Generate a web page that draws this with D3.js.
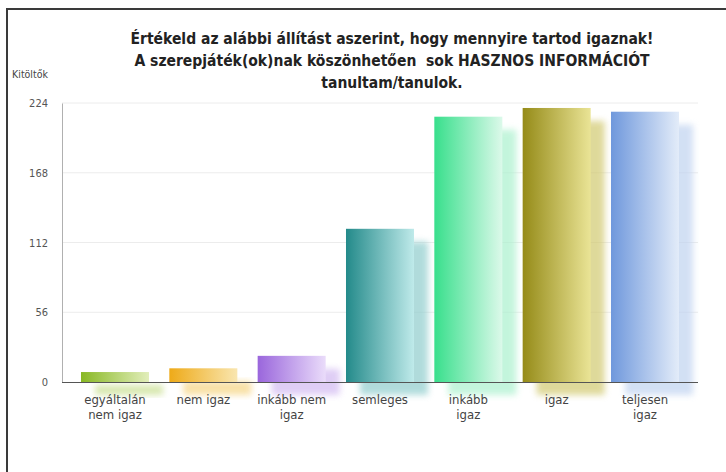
<!DOCTYPE html>
<html>
<head>
<meta charset="utf-8">
<script src="https://cdn.jsdelivr.net/npm/d3@7"></script>
<style>
  body { margin: 0; background: #fff; }
  svg { display: block; }
</style>
</head>
<body>
<svg id="chart" width="726" height="472"></svg>
<script>
// data
const categories = ['egyáltalán nem igaz', 'nem igaz', 'inkább nem igaz', 'semleges', 'inkább igaz', 'igaz', 'teljesen igaz'];
const labelLines = [['egyáltalán', 'nem igaz'], ['nem igaz'], ['inkább nem', 'igaz'], ['semleges'], ['inkább', 'igaz'], ['igaz'], ['teljesen', 'igaz']];
const counts = [8, 11, 21, 123, 213, 220, 217];
const yTicks = [0, 56, 112, 168, 224];
const darkColors = ['#88b824', '#eeaa18', '#9a66dc', '#238a8a', '#38df8c', '#958b18', '#6f98dc'];
const lightColors = ['#e2eebb', '#f9e6b0', '#eadcfa', '#bfeaea', '#dcf9ea', '#eae496', '#e3ecf9'];
const titleLines = [
  'Értékeld az alábbi állítást aszerint, hogy mennyire tartod igaznak!',
  'A szerepjáték(ok)nak köszönhetően  sok HASZNOS INFORMÁCIÓT',
  'tanultam/tanulok.'
];

const svg = d3.select('#chart');
const margin = { top: 103, right: 28, bottom: 90, left: 62 };
const width = 726 - margin.left - margin.right;
const height = 472 - margin.top - margin.bottom;

const defs = svg.append('defs');
darkColors.forEach((c, i) => {
  const g = defs.append('linearGradient')
    .attr('id', `grad${i}`)
    .attr('x1', '0%').attr('x2', '100%').attr('y1', '0%').attr('y2', '0%');
  g.append('stop').attr('offset', '0%').attr('stop-color', c);
  g.append('stop').attr('offset', '100%').attr('stop-color', lightColors[i]);
});
defs.append('filter').attr('id', 'blur')
  .attr('x', '-30%').attr('y', '-30%').attr('width', '160%').attr('height', '160%')
  .append('feGaussianBlur').attr('stdDeviation', 3);

// frame (only left and top edges are visible)
svg.append('path')
  .attr('d', 'M7,472 V9 H726')
  .attr('fill', 'none')
  .attr('stroke', '#3a3a3a')
  .attr('stroke-width', 2);

// title
svg.append('text')
  .attr('x', 392)
  .attr('y', 44)
  .attr('text-anchor', 'middle')
  .style('white-space', 'pre')
  .style('font', 'bold 15.5px "DejaVu Sans Condensed", "DejaVu Sans", sans-serif')
  .style('fill', '#222')
  .selectAll('tspan')
  .data(titleLines)
  .enter()
  .append('tspan')
  .attr('x', 392)
  .attr('dy', (d, i) => (i === 0 ? 0 : 22))
  .text((d) => d);

svg.append('text')
  .attr('x', 30)
  .attr('y', 78)
  .attr('text-anchor', 'middle')
  .style('font', '10.5px "DejaVu Sans Condensed", sans-serif')
  .style('fill', '#444')
  .text('Kitöltők');

const main = svg.append('g')
  .attr('transform', `translate(${margin.left},${margin.top})`);

const x = d3.scaleBand()
  .domain(categories)
  .range([0, width])
  .paddingInner(0.23)
  .paddingOuter(0.215);

const y = d3.scaleLinear()
  .domain([0, 224])
  .range([height, 0]);

// grid
main.append('g')
  .selectAll('line')
  .data(yTicks.filter((t) => t > 0))
  .enter()
  .append('line')
  .attr('x1', 0)
  .attr('x2', width)
  .attr('y1', (d) => y(d))
  .attr('y2', (d) => y(d))
  .attr('stroke', '#ececec');

// y axis
const yAxis = main.append('g')
  .call(d3.axisLeft(y).tickValues(yTicks).tickSize(0).tickPadding(14));
yAxis.select('.domain').attr('stroke', '#b0b0b0');
yAxis.selectAll('text')
  .style('font', '11px "DejaVu Sans Condensed", sans-serif')
  .style('fill', '#555');

// shadow bars
main.append('g')
  .selectAll('rect')
  .data(counts)
  .enter()
  .append('rect')
  .attr('x', (d, i) => x(categories[i]) + 14)
  .attr('y', (d) => y(d) + 13)
  .attr('width', x.bandwidth())
  .attr('height', (d) => height - y(d))
  .attr('fill', (d, i) => d3.interpolateRgb(lightColors[i], darkColors[i])(0.3))
  .attr('opacity', 0.7)
  .attr('filter', 'url(#blur)');

// front bars
main.append('g')
  .selectAll('rect')
  .data(counts)
  .enter()
  .append('rect')
  .attr('x', (d, i) => x(categories[i]))
  .attr('y', (d) => y(d))
  .attr('width', x.bandwidth())
  .attr('height', (d) => height - y(d))
  .attr('fill', (d, i) => `url(#grad${i})`);

// baseline
main.append('line')
  .attr('x1', 0)
  .attr('x2', width)
  .attr('y1', height + 0.5)
  .attr('y2', height + 0.5)
  .attr('stroke', '#555');

// category labels
const labels = main.append('g')
  .selectAll('text')
  .data(labelLines)
  .enter()
  .append('text')
  .attr('text-anchor', 'middle')
  .attr('transform', (d, i) => `translate(${x(categories[i]) + x.bandwidth() / 2},${height + 22})`)
  .style('font', '13px "DejaVu Sans Condensed", sans-serif')
  .style('fill', '#444');

labels.selectAll('tspan')
  .data((d) => d)
  .enter()
  .append('tspan')
  .attr('x', 0)
  .attr('dy', (d, i) => (i === 0 ? 0 : 15))
  .text((d) => d);
</script>
</body>
</html>
